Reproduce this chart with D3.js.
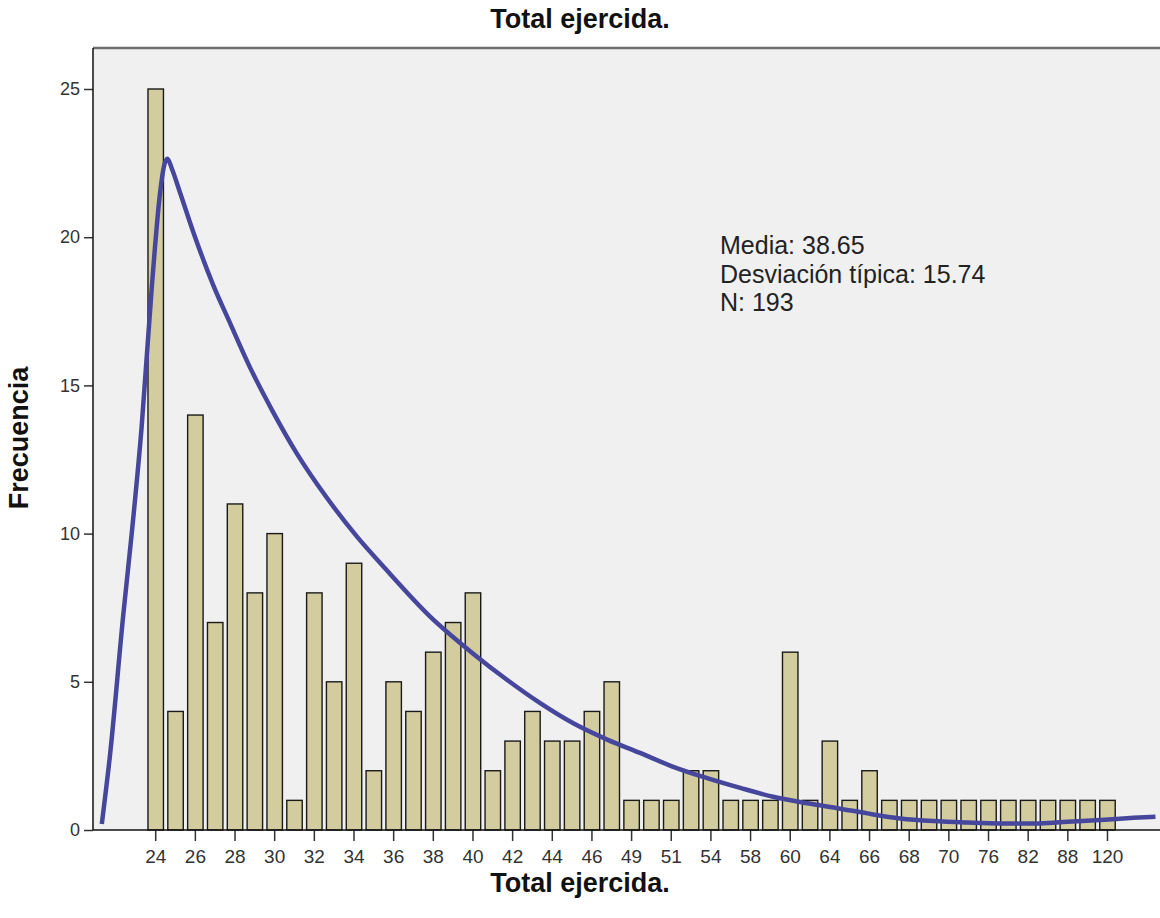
<!DOCTYPE html>
<html>
<head>
<meta charset="utf-8">
<script src="https://cdn.jsdelivr.net/npm/d3@7"></script>
<style>
  html, body { margin: 0; padding: 0; background: #ffffff; }
  svg { display: block; font-family: "Liberation Sans", Arial, sans-serif; }
</style>
</head>
<body>
<svg id="chart" width="1160" height="918"></svg>
<script>
// Values of "Total ejercida." (one bar per observed value)
const categories = ["24","25","26","27","28","29","30","31","32","33","34","35","36","37","38","39",
  "40","41","42","43","44","45","46","47","49","50","51","52","54","56","58","59","60","62","64",
  "65","66","67","68","69","70","72","76","80","82","84","88","102","120"];

// Frequency of each value
const frequencies = [25,4,14,7,11,8,10,1,8,5,9,2,5,4,6,7,8,2,3,4,3,3,4,5,1,1,1,2,2,1,1,1,6,1,3,
  1,2,1,1,1,1,1,1,1,1,1,1,1,1];

// Only every second value carries a tick and label
const tickLabels = categories.filter((d, i) => i % 2 === 0);

const yTicks = [0, 5, 10, 15, 20, 25];

// Fitted density curve, position in bar units (0 = first bar) and expected frequency
const curvePos  = [-2.72,-2.31,-1.63,-1.21,-0.71,-0.20,0.22,0.42,0.59,0.82,1.23,1.88,2.89,3.75,
  4.76,5.92,7.12,8.64,10.15,11.47,13.84,16.01,17.73,19.39,21.06,22.77,24.43,26.10,27.81,29.48,
  31.14,32.86,34.52,35.88,37.55,39.21,40.93,42.60,44.27,45.98,47.64,49.31,50.42];
const curveFreq = [0.2,2.5,7.3,10.0,13.6,18.3,21.5,22.4,22.65,22.3,21.5,20.2,18.4,17.1,
  15.6,14.1,12.7,11.2,9.9,8.9,7.2,5.95,5.06,4.28,3.6,3.05,2.6,2.13,1.75,1.42,
  1.12,0.9,0.72,0.56,0.39,0.3,0.25,0.22,0.22,0.28,0.34,0.41,0.45];

const statLines = ["Media: 38.65", "Desviación típica: 15.74", "N: 193"];

const svg = d3.select("#chart");
const plot = { left: 93, top: 48, right: 1162, bottom: 830 };

const x = d3.scaleBand()
  .domain(categories)
  .range([145.8, 1117.4])
  .paddingInner(0.22)
  .paddingOuter(0.11);

const bw = x.bandwidth();
const xc = d3.scaleLinear()
  .domain([0, categories.length - 1])
  .range([x(categories[0]) + bw / 2, x(categories[categories.length - 1]) + bw / 2]);

const y = d3.scaleLinear().domain([0, 25]).range([plot.bottom, 89]);

// Plot background
svg.append("rect")
  .attr("x", plot.left).attr("y", plot.top)
  .attr("width", plot.right - plot.left).attr("height", plot.bottom - plot.top)
  .attr("fill", "#f0f0f0");

// Top frame line
svg.append("line")
  .attr("x1", plot.left).attr("x2", plot.right)
  .attr("y1", plot.top).attr("y2", plot.top)
  .attr("stroke", "#6e6e6e").attr("stroke-width", 2.5);

// Bars
svg.append("g").selectAll("rect")
  .data(categories)
  .join("rect")
  .attr("x", d => x(d))
  .attr("y", (d, i) => y(frequencies[i]))
  .attr("width", bw)
  .attr("height", (d, i) => y(0) - y(frequencies[i]))
  .attr("fill", "#d3cc9e")
  .attr("stroke", "#1a1a1a")
  .attr("stroke-width", 1.4);

// Density curve
const line = d3.line()
  .x(d => xc(d[0]))
  .y(d => y(d[1]))
  .curve(d3.curveMonotoneX);

svg.append("path")
  .datum(curvePos.map((p, i) => [p, curveFreq[i]]))
  .attr("d", line)
  .attr("fill", "none")
  .attr("stroke", "#46479c")
  .attr("stroke-width", 4.5)
  .attr("stroke-linejoin", "round");

// Y axis
const yAxis = svg.append("g")
  .attr("transform", `translate(${plot.left},0)`)
  .call(d3.axisLeft(y).tickValues(yTicks).tickSize(9).tickPadding(4).tickSizeOuter(0));
yAxis.select(".domain").remove();
yAxis.append("line")
  .attr("x1", 0).attr("x2", 0).attr("y1", plot.top).attr("y2", plot.bottom)
  .attr("stroke", "#111").attr("stroke-width", 1.5);
yAxis.selectAll(".tick line").attr("stroke", "#333").attr("stroke-width", 1.5);
yAxis.selectAll(".tick text")
  .attr("font-size", 18).attr("fill", "#333")
  .attr("font-family", "Liberation Sans, Arial, sans-serif");

// X axis
const xAxis = svg.append("g")
  .attr("transform", `translate(0,${plot.bottom})`)
  .call(d3.axisBottom(x).tickValues(tickLabels).tickSize(11).tickPadding(9).tickSizeOuter(0));
xAxis.select(".domain").remove();
xAxis.append("line")
  .attr("x1", plot.left).attr("x2", plot.right).attr("y1", 0).attr("y2", 0)
  .attr("stroke", "#111").attr("stroke-width", 1.5);
xAxis.selectAll(".tick line").attr("stroke", "#333").attr("stroke-width", 1.5);
xAxis.selectAll(".tick text")
  .attr("font-size", 19).attr("fill", "#333")
  .attr("font-family", "Liberation Sans, Arial, sans-serif");

// Summary statistics
svg.append("g").selectAll("text")
  .data(statLines)
  .join("text")
  .attr("x", 720)
  .attr("y", (d, i) => 254 + i * 28.5)
  .attr("font-size", 25)
  .attr("fill", "#222")
  .text(d => d);

// Titles
svg.append("text")
  .attr("x", 580).attr("y", 28)
  .attr("text-anchor", "middle")
  .attr("font-size", 27).attr("font-weight", "bold").attr("fill", "#111")
  .text("Total ejercida.");

svg.append("text")
  .attr("x", 580).attr("y", 892)
  .attr("text-anchor", "middle")
  .attr("font-size", 27).attr("font-weight", "bold").attr("fill", "#111")
  .text("Total ejercida.");

svg.append("text")
  .attr("transform", "translate(28,438) rotate(-90)")
  .attr("text-anchor", "middle")
  .attr("font-size", 27).attr("font-weight", "bold").attr("fill", "#111")
  .text("Frecuencia");
</script>
</body>
</html>
